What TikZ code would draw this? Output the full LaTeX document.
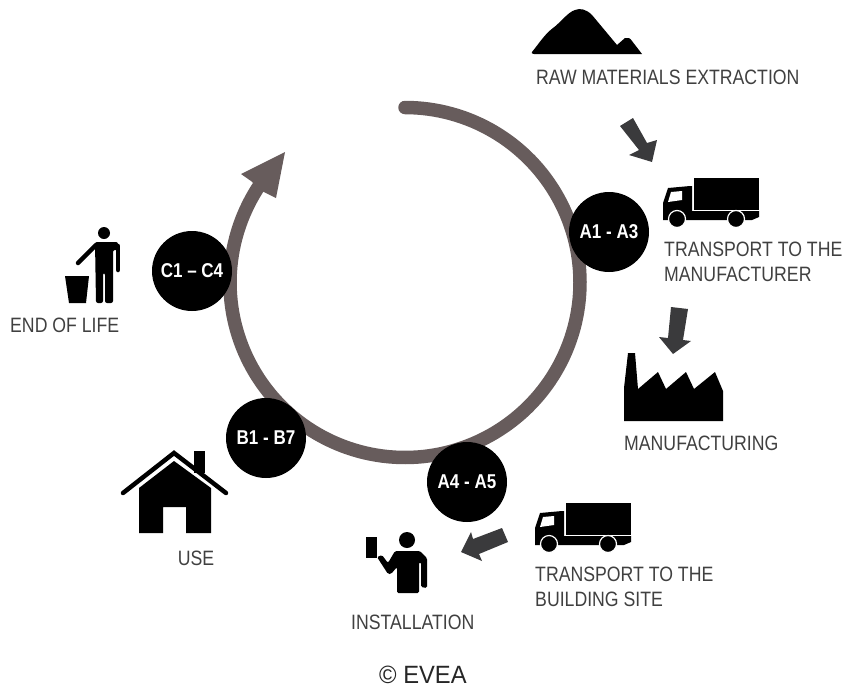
\documentclass[tikz,border=0pt]{standalone}
\usepackage{fontspec}
\setmainfont[FakeStretch=0.85]{Liberation Sans}
\newfontfamily\creditfont[FakeStretch=0.95]{Liberation Sans}
\definecolor{ring}{HTML}{675C5C}
\definecolor{flow}{HTML}{3A3A3C}
\definecolor{label}{HTML}{404040}
\tikzset{
  lab/.style={text=label,font=\fontsize{20.8}{25}\selectfont,inner sep=0pt,anchor=west,align=left},
  stage/.style={circle,fill=black,text=white,minimum size=80pt,inner sep=0pt,font=\fontsize{20}{22}\selectfont\bfseries},
  flowarrow/.style={fill=flow},
  icon/.style={fill=black},
  truck/.pic={
    \fill[icon] (0,0) rectangle (65,32);
    \fill[icon] (-31,25) -- (-26,10) -- (-4,8) -- (-2,8) -- (-2,33) -- (65,33) -- (65,39) -- (58,42) -- (-31,42) -- cycle;
    \fill[white] (-23,14) -- (-12,13) -- (-12,22) -- (-26,24) -- cycle;
    \fill[icon,draw=white,line width=1.2pt] (-17,41) circle (8.5);
    \fill[icon,draw=white,line width=1.2pt] (42,41) circle (8.5);
  }
}
\begin{document}
\begin{tikzpicture}[x=1pt,y=-1pt]
\useasboundingbox (0,0) rectangle (842,688);
% ring
\draw[ring,line width=13.5pt,line cap=round] plot[domain=-90:214,samples=160] ({405+175*cos(\x)},{282.5+175*sin(\x)});
\fill[ring] (285,152) -- (241,174) -- (251,181) -- (262,191) -- (276,198) -- cycle;
% stages
\node[stage] (a13) at (609,232) {A1 - A3};
\node[stage] (c14) at (192,271) {C1 – C4};
\node[stage] (b17) at (266,438) {B1 - B7};
\node[stage] (a45) at (467,482) {A4 - A5};
% mountain
\fill[icon] (532,52) .. controls (540,42) and (545,34) .. (553,28) .. controls (560,23) and (568,12) .. (575,10) .. controls (580,8) and (586,9) .. (592,15) -- (617,45) -- (625,38) .. controls (628,37) and (630,38) .. (632,41) -- (642,54) -- (534,54) .. controls (532,54) and (531,53) .. (532,52) -- cycle;
% flow arrows
\fill[flowarrow] (620,126) -- (633,118) -- (647,143) -- (657,140) -- (652,162) -- (629,155) -- (639,150) -- cycle;
\fill[flowarrow] (671,307) -- (688,309) -- (683,340) -- (691,341) -- (673,354) -- (659,337) -- (668,338) -- cycle;
\fill[flowarrow] (502,528) -- (508,542) -- (479,554) -- (482,561) -- (461,552) -- (471,532) -- (473,539) -- cycle;
% trucks
\pic at (694,178) {truck};
\pic at (566,503) {truck};
% factory
\fill[icon] (624,421) -- (723,421) -- (723,391) -- (715,372) -- (694,389) -- (686,372) -- (666,389) -- (658,372) -- (638,389) -- (635,353) -- (628,353) -- (624,388) -- cycle;
% installer
\fill[icon] (407,540) circle (8);
\fill[icon] (366,537) rectangle (377,558);
\fill[icon,rounded corners=1.5pt] (377,557) -- (388,574) -- (391,574) -- (397,567) -- (397,593) -- (419,593) -- (419,562) -- (421,562) -- (421,587) -- (427,588) -- (427,558) -- (420,551) -- (395,551) -- (388,563) -- (382,555) -- cycle;
% house
\draw[line width=4.5pt,line cap=round,line join=miter] (123,493) -- (174,453) -- (226,493);
\fill[icon] (194,451) rectangle (205,473);
\fill[icon] (139,488) -- (174,461) -- (211,488) -- (211,533) -- (186,533) -- (186,507) -- (163,507) -- (163,533) -- (139,533) -- cycle;
% end of life
\fill[icon] (104,233) circle (6);
\fill[icon,rounded corners=2pt] (95,242) -- (118,242) -- (118,250) -- (113,250) -- (113,303) -- (105,303) -- (105,273) -- (103,273) -- (103,303) -- (96,303) -- cycle;
\draw[line width=4.5pt,line cap=round] (96,245) -- (78,263);
\draw[line width=4.5pt,line cap=round] (118,246) -- (118,270);
\fill[icon] (65,276) -- (89,276) -- (86,303) -- (69,303) -- cycle;
% labels
\node[lab] (t1) at (536,77) {RAW MATERIALS EXTRACTION};
\node[lab] (t2) at (664,261.5) {TRANSPORT TO THE\\MANUFACTURER};
\node[lab] (t3) at (624,443) {MANUFACTURING};
\node[lab] (t4) at (535,586.5) {TRANSPORT TO THE\\BUILDING SITE};
\node[lab] (t5) at (351,622) {INSTALLATION};
\node[lab,anchor=center] (t6) at (196,558) {USE};
\node[lab] (t7) at (10,325) {END OF LIFE};
\node[lab,text=black!85,font=\creditfont\fontsize{25}{28}\selectfont] (t8) at (379,675) {© EVEA};
\end{tikzpicture}
\end{document}
